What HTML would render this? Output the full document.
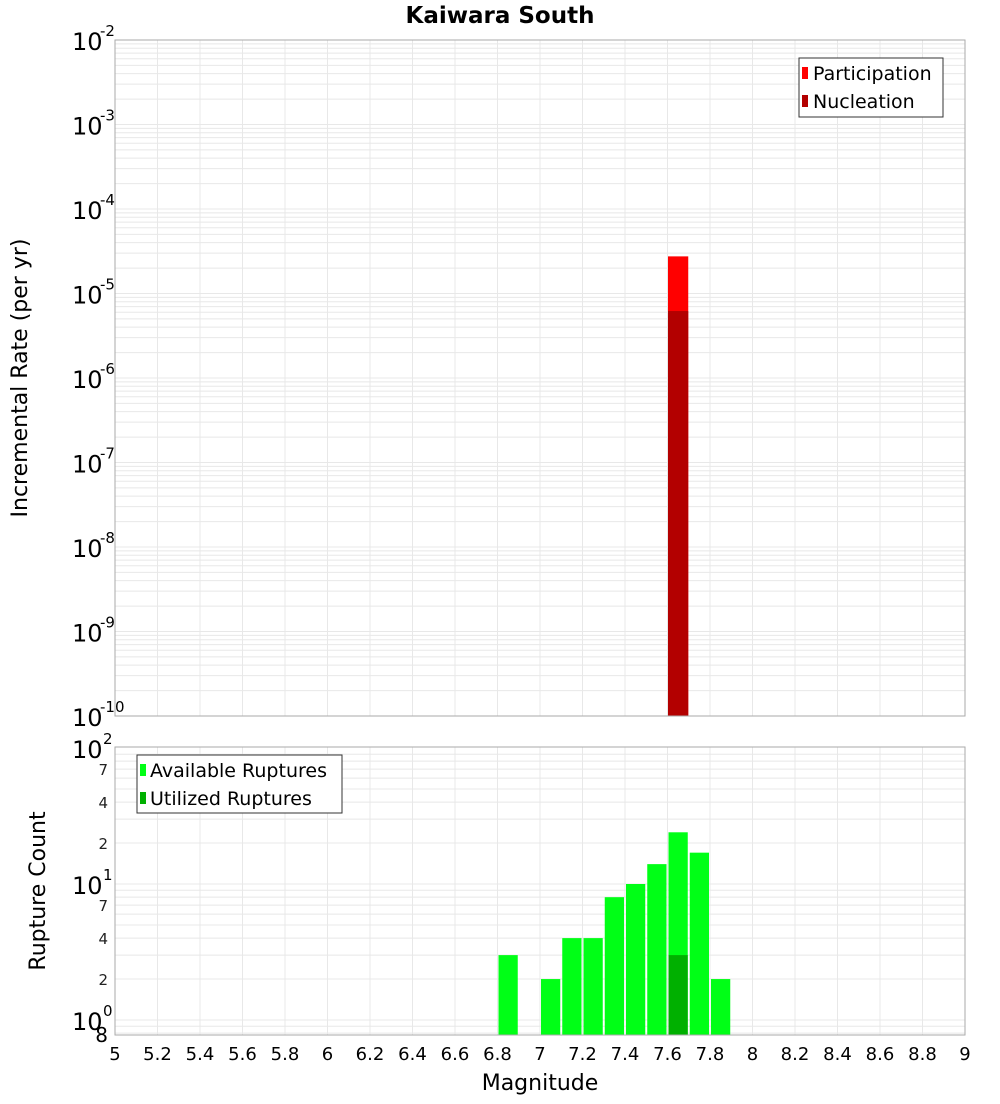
<!DOCTYPE html>
<html><head><meta charset="utf-8"><style>
body{margin:0;background:#fff;font-family:"DejaVu Sans","Liberation Sans",sans-serif}
</style></head><body>
<svg id="chart" width="1000" height="1100" xmlns="http://www.w3.org/2000/svg" font-family="DejaVu Sans, Liberation Sans, sans-serif">
<text x="500" y="23" text-anchor="middle" font-size="23" font-weight="bold">Kaiwara South</text>
<g id="gtop"></g>
<g id="gbot"></g>
<text transform="translate(27,378) rotate(-90)" text-anchor="middle" font-size="22">Incremental Rate (per yr)</text>
<text transform="translate(45,891) rotate(-90)" text-anchor="middle" font-size="22">Rupture Count</text>
<text x="540" y="1090" text-anchor="middle" font-size="22">Magnitude</text>
<g id="legends"></g>
</svg>
<script>
const rateMags=[7.6];
const participation=[2.75e-5];
const nucleation=[6.2e-6];
const countMags=[6.8,7.0,7.1,7.2,7.3,7.4,7.5,7.6,7.7,7.8];
const available=[3,2,4,4,8,10,14,24,17,2];
const utilizedMags=[7.6];
const utilized=[3];
const xTicks=[5,5.2,5.4,5.6,5.8,6,6.2,6.4,6.6,6.8,7,7.2,7.4,7.6,7.8,8,8.2,8.4,8.6,8.8,9];
const rateDecades=[-10,-9,-8,-7,-6,-5,-4,-3,-2];
const countMinorLabels=[2,4,7,20,40,70];

const NS='http://www.w3.org/2000/svg';
const L=115,R=965;
const x=m=>L+(m-5)/4*(R-L);
const T1=40,B1=716;
const y1=v=>B1-(Math.log10(v)+10)/8*(B1-T1);
const T2=747,B2=1035,C0=1020,D=136;
const y2=v=>C0-Math.log10(v)*D;
function el(p,tag,a){const e=document.createElementNS(NS,tag);for(const k in a)e.setAttribute(k,a[k]);p.appendChild(e);return e;}
const gTop=document.getElementById('gtop'),gBot=document.getElementById('gbot'),gLeg=document.getElementById('legends');
for(let d=-10;d<-2;d++)for(let k=1;k<10;k++){const yy=y1(k*Math.pow(10,d));const g=el(gTop,'line',{x1:L,x2:R,y1:yy,y2:yy,stroke:'#e8e8e8'});

}
for(let i=0;i<=40;i+=2){const xx=x(5+i/10);const g=el(gTop,'line',{x1:xx,x2:xx,y1:T1,y2:B1,stroke:'#e8e8e8'});

}
for(let d=-1;d<2;d++)for(let k=1;k<10;k++){const v=k*Math.pow(10,d);const yy=y2(v);if(yy>B2||yy<T2)continue;const g=el(gBot,'line',{x1:L,x2:R,y1:yy,y2:yy,stroke:'#e8e8e8'});

}
for(let i=0;i<=40;i+=2){const xx=x(5+i/10);const g=el(gBot,'line',{x1:xx,x2:xx,y1:T2,y2:B2,stroke:'#e8e8e8'});

}
rateMags.forEach((m,i)=>{
 let b=el(gTop,'rect',{x:x(m)+0.5,y:y1(participation[i]),width:x(m+0.1)-x(m)-1,height:B1-y1(participation[i]),fill:'#ff0000'});
 
 
 b=el(gTop,'rect',{x:x(m)+0.5,y:y1(nucleation[i]),width:x(m+0.1)-x(m)-1,height:B1-y1(nucleation[i]),fill:'#b30000'});
 
 
});
countMags.forEach((m,i)=>{
 const b=el(gBot,'rect',{x:x(m)+1,y:y2(available[i]),width:x(m+0.1)-x(m)-2,height:B2-y2(available[i]),fill:'#00ff16'});
 
 
});
utilizedMags.forEach((m,i)=>{
 const b=el(gBot,'rect',{x:x(m)+1,y:y2(utilized[i]),width:x(m+0.1)-x(m)-2,height:B2-y2(utilized[i]),fill:'#00b000'});
 
 
});
let f=el(gTop,'rect',{x:L,y:T1,width:R-L,height:B1-T1,fill:'none',stroke:'#aaa'});


f=el(gBot,'rect',{x:L,y:T2,width:R-L,height:B2-T2,fill:'none',stroke:'#aaa'});


rateDecades.forEach(d=>{const yy=y1(Math.pow(10,d));const t=el(gTop,'text',{x:72,y:yy+10,'font-size':24});t.textContent='10';
 
 
 const s=el(gTop,'text',{x:100,y:yy-4,'font-size':15});s.textContent=String(d);
 
 });
[0,1,2].forEach(d=>{const yy=y2(Math.pow(10,d));const t=el(gBot,'text',{x:72,y:yy+10,'font-size':24});t.textContent='10';
 
 
 const s=el(gBot,'text',{x:103,y:yy-4,'font-size':15});s.textContent=String(d);
 
 });
countMinorLabels.forEach(v=>{const t=el(gBot,'text',{x:108,y:y2(v)+6,'font-size':15,'text-anchor':'end',fill:'#222'});t.textContent=String(String(v)[0]);
 
 });
{const t=el(gBot,'text',{x:108,y:y2(0.8)+9,'font-size':20,'text-anchor':'end'});t.textContent='8';

}
xTicks.forEach(m=>{const t=el(gBot,'text',{x:x(m),y:1060,'font-size':18,'text-anchor':'middle'});t.textContent=String(m);
 
 });
</script>
<svg style="position:absolute;left:0;top:0" width="1000" height="1100" xmlns="http://www.w3.org/2000/svg" font-family="DejaVu Sans, Liberation Sans, sans-serif">
<g>
<rect x="799" y="58" width="144" height="59" fill="#fff" stroke="#333"/>
<rect x="802" y="67" width="6" height="12" fill="#ff0000"/>
<text x="813" y="80" font-size="19">Participation</text>
<rect x="802" y="95" width="6" height="12" fill="#b30000"/>
<text x="813" y="108" font-size="19">Nucleation</text>
</g>
<g>
<rect x="137" y="755" width="205" height="58" fill="#fff" stroke="#333"/>
<rect x="140" y="764" width="6" height="12" fill="#00ff16"/>
<text x="150" y="777" font-size="19">Available Ruptures</text>
<rect x="140" y="792" width="6" height="12" fill="#00b000"/>
<text x="150" y="805" font-size="19">Utilized Ruptures</text>
</g>
</svg>
</body></html>
